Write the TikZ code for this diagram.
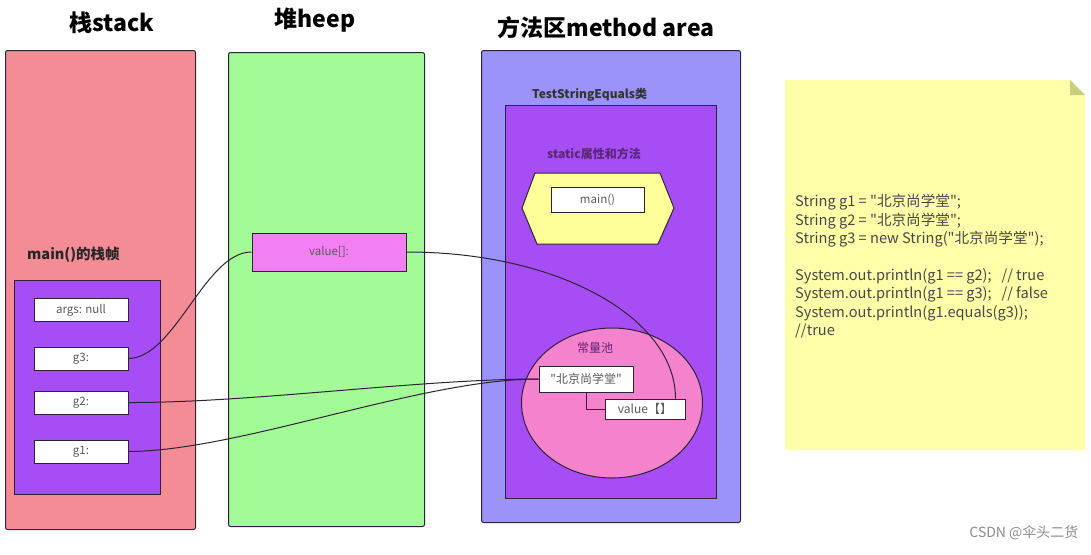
\documentclass[tikz,border=0pt]{standalone}
\usepackage{fontspec}
\setmainfont{Noto Sans CJK SC}[Ligatures=TeXOff]
\usetikzlibrary{shapes.geometric,calc}
\definecolor{stackc}{RGB}{244,140,150}
\definecolor{heapc}{RGB}{163,251,152}
\definecolor{methodc}{RGB}{155,147,250}
\definecolor{purplec}{RGB}{166,77,245}
\definecolor{hexc}{RGB}{255,255,153}
\definecolor{poolc}{RGB}{245,130,205}
\definecolor{arrc}{RGB}{243,128,243}
\definecolor{notec}{RGB}{255,255,170}
\definecolor{foldc}{RGB}{200,206,128}
\definecolor{edgec}{RGB}{45,35,55}
\definecolor{labc}{RGB}{90,40,120}
\begin{document}
\begin{tikzpicture}[x=1pt,y=-1pt,
  region/.style={draw=edgec, line width=1pt, rounded corners=2pt, anchor=north west, inner sep=0pt},
  cell/.style={draw=edgec, line width=1pt, fill=white, minimum width=94pt, minimum height=23pt, inner sep=0pt, font=\fontsize{11.5}{13}\selectfont, text=black!65},
  conn/.style={draw=edgec, line width=1pt},
  ttl/.style={font=\fontsize{23}{27}\selectfont\bfseries},
  lab/.style={font=\fontsize{12}{14}\selectfont\bfseries, inner sep=0pt}]
\useasboundingbox[fill=white] (0,0) rectangle (1091,554);
% regions
\node[region, fill=stackc, minimum width=190pt, minimum height=479pt] (stack) at (5,50) {};
\node[region, fill=heapc, minimum width=196pt, minimum height=474pt] (heap) at (228,52) {};
\node[region, fill=methodc, minimum width=259pt, minimum height=472pt] (method) at (481,50) {};
% titles
\node[ttl] (tstack) at (112,23) {栈stack};
\node[ttl] (theap) at (315,20) {堆heep};
\node[ttl] (tmethod) at (606,28) {方法区method area};
% stack frame
\node[lab, font=\fontsize{14.5}{16}\selectfont\bfseries, anchor=west, text=black!85] (tframe) at (27,255) {main()的栈帧};
\node[region, rounded corners=0pt, fill=purplec, minimum width=146pt, minimum height=214pt] (frame) at (14,280) {};
\node[cell] (args) at (81,310) {args: null};
\node[cell] (g3) at (81,358.5) {g3:};
\node[cell] (g2) at (81,402.5) {g2:};
\node[cell] (g1) at (81,451.5) {g1:};
% heap
\node[cell, fill=arrc, minimum width=154pt, minimum height=38pt] (arr) at (329,252) {value[]:};
% method area
\node[lab, anchor=west, text=black!80] (tclass) at (532,95) {TestStringEquals类};
\node[region, rounded corners=0pt, fill=purplec, minimum width=211pt, minimum height=393pt] (cls) at (505,105) {};
\node[lab, anchor=west, text=labc] (tstatic) at (547,154) {static属性和方法};
\draw[draw=edgec, line width=1pt, fill=hexc] (535,173) -- (660,173) -- (674,208) -- (658,244) -- (537,244) -- (522,208) -- cycle;
\node[cell, minimum width=93pt, minimum height=25pt] (main) at (597.5,199.5) {main()};
\node[ellipse, draw=edgec, line width=1pt, fill=poolc, minimum width=181pt, minimum height=150pt, inner sep=0pt] (pool) at (612,403) {};
\node[font=\fontsize{12}{14}\selectfont, text=labc, inner sep=0pt] (tpool) at (595,348) {常量池};
\node[cell, minimum width=94pt, minimum height=26pt, font=\fontsize{12}{14}\selectfont] (str) at (586,379) {"北京尚学堂"};
\node[cell, minimum width=80pt, minimum height=20pt, font=\fontsize{12}{14}\selectfont] (val) at (645,409) {value【】};
\draw[conn] (str.south) |- (val.west);
% connectors
\draw[conn] (g3.east) .. controls (175,358) and (205,252) .. (arr.west);
\draw[conn] (g2.east) .. controls (250,403) and (420,379) .. (str.west);
\draw[conn] (g1.east) .. controls (240,451) and (420,379) .. (str.west);
\draw[conn] (arr.east) .. controls (560,252) and ($(val.north east)+(-10,-80)$) .. ([xshift=-10pt]val.north east);
% note
\fill[notec] (785,80) -- (1070,80) -- (1085,95) -- (1085,450) -- (785,450) -- cycle;
\fill[foldc] (1070,80) -- (1070,95) -- (1085,95) -- cycle;
\node[anchor=north west, align=left, inner sep=0pt, font=\fontsize{14.6}{18.4}\selectfont, text=black!72] (code) at (795,194) {String g1 = "北京尚学堂";\\
String g2 = "北京尚学堂";\\
String g3 = new String("北京尚学堂");\\[18.4pt]
System.out.println(g1 == g2);~~~// true\\
System.out.println(g1 == g3);~~~// false\\
System.out.println(g1.equals(g3));\\
//true};
% watermark
\node[font=\fontsize{14}{16}\selectfont, text=black!45, anchor=east] (wm) at (1082,533) {CSDN @伞头二货};
\end{tikzpicture}
\end{document}
